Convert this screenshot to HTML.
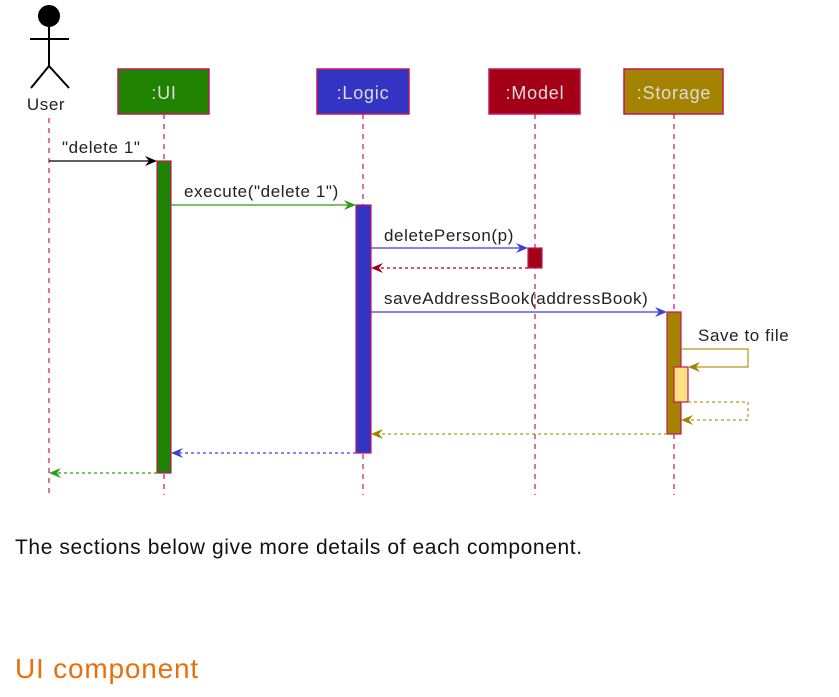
<!DOCTYPE html>
<html><head><meta charset="utf-8"><style>
body{margin:0;background:#fff;width:839px;height:697px;overflow:hidden;font-family:"Liberation Sans",sans-serif}
svg{position:absolute;left:0;top:0}
.t{font-family:"Liberation Sans",sans-serif;font-size:17px;fill:#222;letter-spacing:0.6px}
.p{position:absolute;left:15px;margin:0}
</style></head><body>
<svg width="839" height="520">
<g stroke="#c2185b" stroke-width="1.2" stroke-dasharray="5,5">
<line x1="49" y1="118" x2="49" y2="495"/><line x1="164" y1="114" x2="164" y2="495"/>
<line x1="363" y1="114" x2="363" y2="495"/><line x1="535" y1="114" x2="535" y2="495"/>
<line x1="674" y1="114" x2="674" y2="495"/></g>
<g stroke="#000" stroke-width="2" fill="none">
<circle cx="49" cy="16" r="10" fill="#000"/><line x1="49" y1="26" x2="49" y2="66"/>
<line x1="30" y1="39" x2="69" y2="39"/><line x1="49" y1="66" x2="31" y2="88"/><line x1="49" y1="66" x2="69" y2="88"/></g>
<text class="t" x="46" y="110" text-anchor="middle" font-size="18">User</text>
<g stroke="#c2185b" stroke-width="1.5">
<rect x="118" y="69" width="91" height="45" fill="#1f8200"/><rect x="317" y="69" width="92" height="45" fill="#3333c4"/>
<rect x="489" y="69" width="91" height="45" fill="#a30017"/><rect x="624" y="69" width="99" height="45" fill="#a38300"/></g>
<g font-family="Liberation Sans" font-size="18" text-anchor="middle" letter-spacing="0.8">
<text x="164" y="99" fill="#dddddd">:UI</text>
<text x="363" y="99" fill="#dddddd">:Logic</text>
<text x="535" y="99" fill="#dddddd">:Model</text>
<text x="674" y="99" fill="#dddddd">:Storage</text></g>
<g stroke="#c2185b" stroke-width="1.2">
<rect x="157" y="161" width="14" height="312" fill="#1f8200"/>
<rect x="356" y="205" width="15" height="248" fill="#3333c4"/>
<rect x="528" y="248" width="14" height="20" fill="#a30017"/>
<rect x="667" y="312" width="14" height="122" fill="#a38300"/>
<rect x="674" y="367" width="14" height="35" fill="#ffe082"/></g>
<g stroke-width="1.2" fill="none">
<line x1="49" y1="161" x2="155" y2="161" stroke="#000"/>
<line x1="171" y1="205" x2="354" y2="205" stroke="#2e9b1a"/>
<line x1="371" y1="248" x2="526" y2="248" stroke="#3f3fd8"/>
<line x1="528" y1="268" x2="373" y2="268" stroke="#a30017" stroke-dasharray="3,3"/>
<line x1="371" y1="312" x2="665" y2="312" stroke="#3f3fd8"/>
<polyline points="681,349 748,349 748,367 690,367" stroke="#b8961a"/>
<polyline points="688,402 748,402 748,420 683,420" stroke="#b8961a" stroke-dasharray="3,3"/>
<line x1="667" y1="434" x2="373" y2="434" stroke="#b8961a" stroke-dasharray="3,3"/>
<line x1="356" y1="453" x2="173" y2="453" stroke="#3f3fd8" stroke-dasharray="3,3"/>
<line x1="157" y1="473" x2="51" y2="473" stroke="#2e9b1a" stroke-dasharray="3,3"/></g>
<g>
<polygon points="157,161 145,156 149,161 145,166" fill="#000"/>
<polygon points="356,205 344,200 348,205 344,210" fill="#2e9b1a"/>
<polygon points="528,248 516,243 520,248 516,253" fill="#3f3fd8"/>
<polygon points="371,268 383,263 379,268 383,273" fill="#a30017"/>
<polygon points="667,312 655,307 659,312 655,317" fill="#3f3fd8"/>
<polygon points="688,367 700,362 696,367 700,372" fill="#a38300"/>
<polygon points="681,420 693,415 689,420 693,425" fill="#a38300"/>
<polygon points="371,434 383,429 379,434 383,439" fill="#a38300"/>
<polygon points="171,453 183,448 179,453 183,458" fill="#3f3fd8"/>
<polygon points="49,473 61,468 57,473 61,478" fill="#2e9b1a"/></g>
<text class="t" x="62" y="153">"delete 1"</text>
<text class="t" x="184" y="197">execute("delete 1")</text>
<text class="t" x="384" y="241">deletePerson(p)</text>
<text class="t" x="384" y="304">saveAddressBook(addressBook)</text>
<text class="t" x="698" y="341">Save to file</text>
</svg>
<p class="p" style="top:536px;font-size:21px;letter-spacing:0.6px;color:#111">The sections below give more details of each component.</p>
<h2 class="p" style="top:653px;font-size:28px;letter-spacing:0.8px;font-weight:normal;color:#e8700c">UI component</h2>
</body></html>
